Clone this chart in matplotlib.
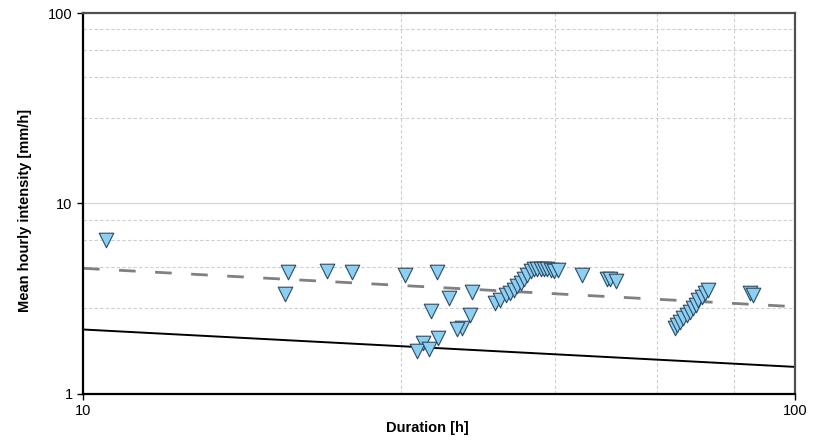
import numpy as np
import matplotlib.pyplot as plt
from matplotlib.ticker import FixedLocator, NullFormatter

plt.rcParams['font.family'] = ['Liberation Sans', 'DejaVu Sans']

# eventos observados (duracion en h, intensidad media en mm/h)
duracion = [10.77, 19.41, 19.22, 22.01, 23.87, 28.34, 31.42, 32.66, 30.82,
            35.19, 34.97, 34.08, 33.53, 31.52, 30.03, 29.45, 30.62,
            37.91, 38.52, 39.27, 39.78, 40.30, 40.74, 41.19, 41.63, 42.07,
            42.54, 42.99, 43.45, 43.93, 44.41, 44.88, 45.38, 45.86, 46.51,
            50.17, 54.39, 54.98, 56.06,
            67.87, 68.37, 68.96, 69.70, 70.47, 71.22, 71.98, 72.61, 73.15,
            73.96, 74.75, 75.55,
            86.46, 87.39]
intensidad = [6.39, 4.34, 3.33, 4.40, 4.34, 4.19, 4.34, 3.17, 2.71,
              3.41, 2.58, 2.21, 2.18, 1.96, 1.84, 1.67, 1.71,
              2.98, 3.10, 3.29, 3.38, 3.52, 3.67, 3.82, 3.98, 4.19,
              4.41, 4.54, 4.54, 4.54, 4.50, 4.49, 4.45, 4.41, 4.45,
              4.19, 4.02, 3.98, 3.91,
              2.20, 2.29, 2.38, 2.48, 2.58, 2.69, 2.80, 2.91, 3.10,
              3.22, 3.38, 3.49,
              3.37, 3.29]

# umbrales (lineas)
dur_umbral = [10, 100]
umbral_inf = [2.17, 1.38]
umbral_med = [4.55, 2.86]

grid_pos = [28, 46, 64, 82]

fig = plt.figure(figsize=(8.15, 4.41), dpi=100)
ax = fig.add_axes([0.1018, 0.1077, 0.8737, 0.8628])
ax.set_xscale('log')
ax.set_yscale('log')
ax.set_xlim(10, 100)
ax.set_ylim(1, 100)

# rejilla
ax.xaxis.set_major_locator(FixedLocator([10, 100]))
ax.yaxis.set_major_locator(FixedLocator([1, 10, 100]))
ax.xaxis.set_minor_locator(FixedLocator(grid_pos))
ax.yaxis.set_minor_locator(FixedLocator([g / 10 for g in grid_pos] + grid_pos))
ax.xaxis.set_minor_formatter(NullFormatter())
ax.yaxis.set_minor_formatter(NullFormatter())
ax.set_xticklabels(['10', '100'])
ax.set_yticklabels(['1', '10', '100'])
ax.grid(which='minor', color='#cfcfcf', linestyle=(0, (3, 2)), linewidth=0.8)
ax.grid(which='major', axis='y', color='#d4d4d4', linestyle='-', linewidth=0.8)
ax.tick_params(which='minor', length=0)
ax.tick_params(which='major', length=4, width=1, labelsize=10.5, direction='out')
ax.set_axisbelow(True)

ax.plot(dur_umbral, umbral_med, color='#808080', lw=2, dashes=(6, 7), zorder=2)
ax.plot(dur_umbral, umbral_inf, color='black', lw=1.4, zorder=2)
ax.scatter(duracion, intensidad, marker='v', s=110, color='#8dcff0',
           edgecolors='#2e4a66', linewidths=0.8, zorder=3, clip_on=False)

for lado in ['left', 'bottom']:
    ax.spines[lado].set_linewidth(1.6)
    ax.spines[lado].set_color('black')
for lado in ['top', 'right']:
    ax.spines[lado].set_linewidth(1.6)
    ax.spines[lado].set_color('#505050')

ax.set_xlabel('Duration [h]', fontsize=10.5, fontweight='bold')
ax.xaxis.set_label_coords(0.483, -0.072)
ax.set_ylabel('Mean hourly intensity [mm/h]', fontsize=10.5, fontweight='bold')
ax.yaxis.set_label_coords(-0.072, 0.48)

plt.savefig('out.png', dpi=100)
